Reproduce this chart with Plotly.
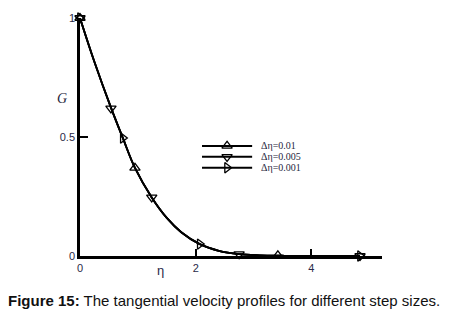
import plotly.graph_objects as go

# ---- data ----
eta_curve = [0, 0.25, 0.54, 0.74, 0.95, 1.24, 1.5, 1.75, 2.07, 2.4, 2.75, 3.1, 3.5, 4.0, 4.84]
G_curve = [1.0, 0.815, 0.62, 0.496, 0.37, 0.246, 0.16, 0.10, 0.05, 0.022, 0.008, 0.003, 0.001, 0.0, 0.0]

series_names = ["\u0394\u03b7=0.01", "\u0394\u03b7=0.005", "\u0394\u03b7=0.001"]
series_symbols = ["triangle-up-open", "triangle-down-open", "triangle-right-open"]
marker_eta = [
    [0, 0.95, 3.42],
    [0, 0.535, 1.24, 2.75, 4.84],
    [0, 0.74, 2.07, 4.84],
]
marker_G = [
    [1.0, 0.37, 0.003],
    [1.0, 0.62, 0.246, 0.008, 0.0],
    [1.0, 0.496, 0.05, 0.0],
]

x_ticks = [0, 2, 4]
y_ticks = [0, 0.5, 1]

fig = go.Figure()

# curves (all three coincide)
for name in series_names:
    fig.add_trace(go.Scatter(
        x=eta_curve, y=G_curve, mode="lines", line=dict(color="black", width=1.8, shape="spline"),
        showlegend=False, hoverinfo="skip", cliponaxis=False))

# markers
for name, sym, xs, ys in zip(series_names, series_symbols, marker_eta, marker_G):
    fig.add_trace(go.Scatter(
        x=xs, y=ys, mode="markers", name=name, showlegend=False, cliponaxis=False,
        marker=dict(symbol=sym, size=9, color="black", line=dict(color="black", width=1.3))))

# manual legend on an overlay axis (fractions of plot area)
leg_x0, leg_x1, leg_xm, leg_text_x = 0.404, 0.570, 0.487, 0.593
leg_rows = [0.4625, 0.4167, 0.3708]
for name, sym, yr in zip(series_names, series_symbols, leg_rows):
    fig.add_trace(go.Scatter(
        x=[leg_x0, leg_x1], y=[yr, yr], mode="lines", xaxis="x2", yaxis="y2",
        line=dict(color="black", width=2), showlegend=False, hoverinfo="skip"))
    fig.add_trace(go.Scatter(
        x=[leg_xm], y=[yr], mode="markers", xaxis="x2", yaxis="y2", showlegend=False,
        hoverinfo="skip",
        marker=dict(symbol=sym, size=9, color="black", line=dict(color="black", width=1.3))))
    fig.add_annotation(xref="paper", yref="paper", x=leg_text_x, y=yr, text=name,
                       showarrow=False, xanchor="left", yanchor="middle",
                       font=dict(family="Liberation Serif", size=10, color="#1f1f3d"))

tick_font = dict(family="Liberation Sans, Arial", size=11, color="#2a2a48")

fig.update_layout(
    width=456, height=321,
    margin=dict(l=80, r=74, t=16, b=65),
    paper_bgcolor="white", plot_bgcolor="white",
    showlegend=False,
    xaxis=dict(range=[0, 5.22], tickvals=x_ticks, ticktext=[str(v) for v in x_ticks],
               ticks="inside", ticklen=7, tickwidth=1.5, tickcolor="black",
               showline=True, linecolor="black", linewidth=2.5, showgrid=False,
               zeroline=False, tickfont=tick_font),
    yaxis=dict(range=[0, 1.0], tickvals=y_ticks, ticktext=["0", "0.5", "1"],
               ticks="inside", ticklen=8, tickwidth=1.5, tickcolor="black",
               showline=True, linecolor="black", linewidth=2.5, showgrid=False,
               zeroline=False, tickfont=tick_font),
    xaxis2=dict(range=[0, 1], overlaying="x", visible=False),
    yaxis2=dict(range=[0, 1], overlaying="y", visible=False),
)

# axis titles
fig.add_annotation(xref="paper", yref="paper", x=-0.06, y=0.6625, text="<i>G</i>",
                   showarrow=False, xanchor="center", yanchor="middle",
                   font=dict(family="Liberation Serif", size=14, color="#1f1f3d"))
fig.add_annotation(xref="paper", yref="paper", x=0.268, y=-0.0625, text="\u03b7",
                   showarrow=False, xanchor="center", yanchor="middle",
                   font=dict(family="Liberation Sans", size=13, color="#2a2a48"))

# caption
fig.add_annotation(xref="paper", yref="paper", x=-0.245, y=-0.1875,
                   text="<b>Figure 15:</b> The tangential velocity profiles for different step sizes.",
                   showarrow=False, xanchor="left", yanchor="middle",
                   font=dict(family="Liberation Sans, Arial", size=15, color="#111111"))

fig.write_html("out.html", post_script="document.body.style.margin='0';",
               config={"displayModeBar": False})
